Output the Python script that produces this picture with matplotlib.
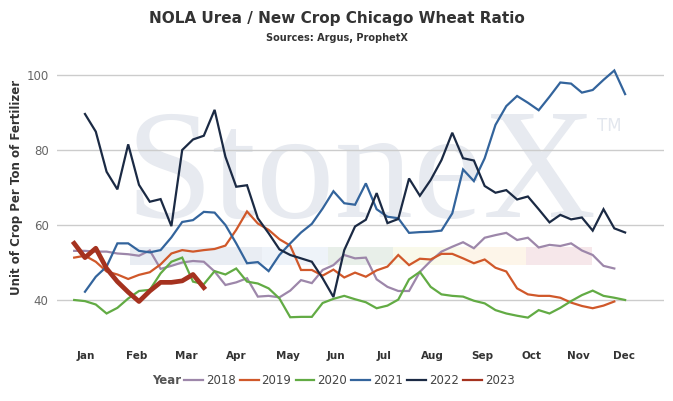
import numpy as np
import matplotlib
matplotlib.use('Agg')
import matplotlib.pyplot as plt
from matplotlib.patches import Rectangle

# Weekly ratio values (week index 0 = first week of Jan for 2021/2022)
years = ['2018', '2019', '2020', '2021', '2022', '2023']
start_week = [-1, -1, -1, 0, 0, -1]

y2018 = [53.1, 53.1, 52.9, 52.9, 52.4, 52.2, 51.8, 53.2, 48.3, 49.1, 50.0, 50.4, 50.2,
         47.6, 44.0, 44.7, 45.8, 40.9, 41.1, 40.7, 42.5, 45.3, 44.5, 48.0, 49.3, 52.0,
         51.1, 51.3, 45.5, 43.5, 42.4, 42.4, 47.5, 50.4, 52.9, 54.2, 55.4, 53.8, 56.6,
         57.3, 57.9, 56.0, 56.6, 54.0, 54.7, 54.4, 55.1, 53.2, 52.0, 49.1, 48.4]
y2019 = [51.3, 51.8, 50.2, 47.6, 46.8, 45.6, 46.7, 47.4, 49.5, 52.4, 53.3, 52.9, 53.3,
         53.6, 54.5, 58.7, 63.6, 60.4, 58.7, 56.2, 54.5, 48.0, 48.0, 46.5, 48.1, 46.0,
         47.3, 46.2, 47.9, 48.9, 52.0, 49.3, 51.0, 50.8, 52.3, 52.3, 51.1, 49.8, 50.8,
         48.6, 47.6, 43.1, 41.5, 41.1, 41.1, 40.6, 39.3, 38.4, 37.8, 38.5, 39.6]
y2020 = [40.0, 39.7, 38.8, 36.4, 37.9, 40.4, 42.4, 42.7, 47.1, 50.2, 51.3, 44.9, 44.2,
         47.7, 46.8, 48.4, 44.9, 44.4, 43.1, 40.4, 35.4, 35.5, 35.5, 39.2, 40.3, 41.1,
         40.2, 39.4, 37.8, 38.5, 40.1, 45.5, 47.5, 43.5, 41.5, 41.1, 40.9, 39.8, 39.1,
         37.3, 36.4, 35.8, 35.3, 37.3, 36.4, 37.9, 39.7, 41.3, 42.5, 41.1, 40.6, 40.0]
y2021 = [42.2, 46.2, 48.9, 55.1, 55.1, 53.1, 52.7, 53.3, 56.7, 60.8, 61.3, 63.5, 63.3,
         60.0, 55.1, 49.8, 50.1, 47.7, 52.0, 55.1, 58.0, 60.3, 64.4, 69.0, 65.8, 65.4,
         71.1, 64.2, 62.2, 61.8, 57.9, 58.1, 58.2, 58.5, 63.1, 74.8, 71.7, 77.8, 86.7,
         91.7, 94.4, 92.6, 90.6, 94.2, 98.0, 97.7, 95.3, 96.0, 98.7, 101.2, 94.9]
y2022 = [89.6, 84.9, 74.2, 69.5, 81.5, 70.7, 66.2, 66.9, 59.7, 80.0, 82.8, 83.8, 90.7,
         78.2, 70.2, 70.6, 61.8, 57.8, 53.5, 52.0, 51.1, 50.2, 45.8, 40.8, 53.3, 59.6,
         61.4, 68.5, 60.5, 61.6, 72.4, 67.8, 72.0, 77.3, 84.6, 77.8, 77.2, 70.4, 68.6,
         69.3, 66.8, 67.6, 64.2, 60.7, 62.7, 61.5, 62.0, 58.5, 64.2, 59.1, 58.0]
y2023 = [55.1, 51.3, 53.8, 48.4, 44.9, 42.1, 39.6, 42.4, 44.7, 44.7, 45.1, 46.8, 43.3]

series = [y2018, y2019, y2020, y2021, y2022, y2023]
colors = ['#9d87aa', '#d0582a', '#62ab44', '#33649c', '#1b2a44', '#a5321f']
widths = [1.6, 1.6, 1.6, 1.6, 1.6, 3.4]

months = ['Jan', 'Feb', 'Mar', 'Apr', 'May', 'Jun', 'Jul', 'Aug', 'Sep', 'Oct', 'Nov', 'Dec']
month_pos = [0.1, 4.8, 9.4, 14.0, 18.8, 23.2, 27.7, 32.2, 36.8, 41.3, 45.7, 49.9]

W, H = 673, 401
fig = plt.figure(figsize=(W / 100, H / 100), dpi=100)


def fx(px):
    return px / W


def fy(py):
    return 1 - py / H


# background layer for the watermark, drawn below the chart axes
bg = fig.add_axes([0, 0, 1, 1], zorder=0)
bg.set_xlim(0, W)
bg.set_ylim(H, 0)
bg.axis('off')
bg.text(361, 217, 'StoneX', family='Liberation Serif', fontsize=113,
        color='#e7eaf0', ha='center', va='baseline')
bg.text(609, 126, 'TM', family='DejaVu Sans', fontsize=12,
        color='#e3e7ee', ha='center', va='center')
band = [(130, 262, '#e9edf3'), (262, 328, '#eef3f9'), (328, 393, '#e8efe9'),
        (393, 460, '#f9f9ea'), (460, 526, '#fdf5e9'), (526, 592, '#f6e7ea')]
for x0, x1, c in band:
    bg.add_patch(Rectangle((x0, 246.5), x1 - x0, 18, color=c, lw=0))

ax = fig.add_axes([fx(57), fy(340), fx(664) - fx(57), fy(55) - fy(340)], zorder=1)
ax.patch.set_alpha(0)
ax.set_xlim(-2.59, 53.6)
ax.set_ylim(29.33, 105.33)

for yr, s0, vals, c, lw in zip(years, start_week, series, colors, widths):
    wk = np.arange(s0, s0 + len(vals))
    ax.plot(wk, vals, color=c, lw=lw, label=yr,
            solid_joinstyle='miter' if lw < 2 else 'round')

ax.set_yticks([40, 60, 80, 100])
ax.yaxis.grid(True, color='#cccccc', lw=1)
ax.set_axisbelow(True)
for sp in ax.spines.values():
    sp.set_visible(False)
ax.tick_params(axis='y', length=0, pad=6, labelsize=8.5, labelcolor='#666666')
ax.set_xticks(month_pos)
ax.set_xticklabels(months, fontweight='bold', color='#333333', fontsize=7.5)
ax.tick_params(axis='x', length=0, pad=8)

fig.text(fx(17), fy(187), 'Unit of Crop Per Ton of Fertilizer', rotation=90,
         ha='center', va='center', fontsize=8.5, fontweight='bold', color='#333333')

fig.text(0.5, fy(19), 'NOLA Urea / New Crop Chicago Wheat Ratio', ha='center', va='center',
         fontsize=11, fontweight='bold', color='#333333')
fig.text(0.5, fy(38), 'Sources: Argus, ProphetX', ha='center', va='center',
         fontsize=7, fontweight='bold', color='#333333')

# legend with the "Year" caption to its left
fig.text(fx(181), fy(381), 'Year', ha='right', va='center', fontsize=8.5,
         fontweight='bold', color='#555555')
handles, labels = ax.get_legend_handles_labels()
leg = fig.legend(handles, labels, loc='center left', bbox_to_anchor=(fx(184), fy(381)),
                 ncol=6, frameon=False, fontsize=8.5, handlelength=1.6,
                 handletextpad=0.25, columnspacing=0.35, borderaxespad=0, borderpad=0)
for t in leg.get_texts():
    t.set_color('#444444')
for lh in leg.get_lines():
    lh.set_linewidth(1.6)

fig.savefig('out.png', dpi=100)
